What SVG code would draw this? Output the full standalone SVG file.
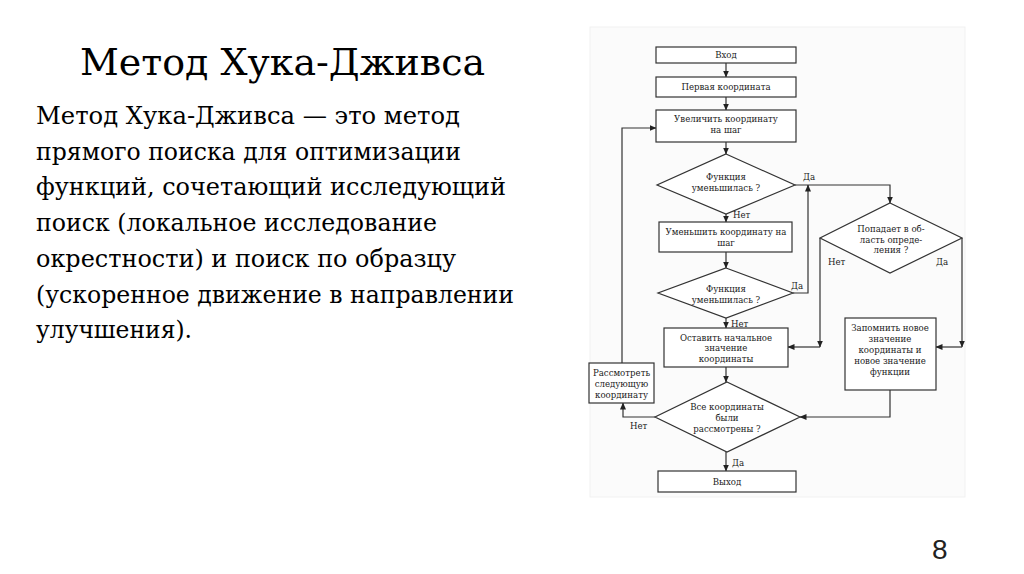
<svg xmlns="http://www.w3.org/2000/svg" width="1024" height="574" viewBox="0 0 1024 574">
<defs>
<marker id="ah" markerWidth="7" markerHeight="6" refX="6.5" refY="3" orient="auto" markerUnits="userSpaceOnUse">
<path d="M0,0 L7,3 L0,6 Z" fill="#222"/>
</marker>
<style>
.title{font-family:'DejaVu Serif',serif;font-size:38px;fill:#000}
.body{font-family:'DejaVu Serif',serif;font-size:23.5px;fill:#000}
.pg{font-family:'Liberation Sans',Arial,sans-serif;font-size:28px;fill:#222}
.box{fill:#fff;stroke:#333;stroke-width:1.2}
.t{font-family:'DejaVu Serif',serif;font-size:8.6px;fill:#222;text-anchor:middle}
.lb{font-family:'DejaVu Serif',serif;font-size:8.6px;fill:#222}
.c{fill:none;stroke:#333;stroke-width:1.2}
</style>
</defs>
<rect width="1024" height="574" fill="#fff"/>
<text class="title" x="80" y="75" textLength="405" lengthAdjust="spacingAndGlyphs">Метод Хука-Дживса</text>
<g id="description">
<text class="body" x="36" y="124" textLength="424" lengthAdjust="spacingAndGlyphs">Метод Хука-Дживса — это метод</text>
<text class="body" x="36" y="160" textLength="425" lengthAdjust="spacingAndGlyphs">прямого поиска для оптимизации</text>
<text class="body" x="36" y="195" textLength="470" lengthAdjust="spacingAndGlyphs">функций, сочетающий исследующий</text>
<text class="body" x="36" y="231" textLength="401" lengthAdjust="spacingAndGlyphs">поиск (локальное исследование</text>
<text class="body" x="36" y="267" textLength="420" lengthAdjust="spacingAndGlyphs">окрестности) и поиск по образцу</text>
<text class="body" x="36" y="303" textLength="478" lengthAdjust="spacingAndGlyphs">(ускоренное движение в направлении</text>
<text class="body" x="36" y="338" textLength="156" lengthAdjust="spacingAndGlyphs">улучшения).</text>
</g>
<text class="pg" x="932" y="559">8</text>
<rect x="590" y="27" width="375" height="470" fill="#fbfbfb" stroke="#f1f1f1"/>

<g id="connectors">
<path class="c" d="M726,63 V77" marker-end="url(#ah)"/>
<path class="c" d="M726,97 V110" marker-end="url(#ah)"/>
<path class="c" d="M726,142 V154" marker-end="url(#ah)"/>
<path class="c" d="M726,214 V222" marker-end="url(#ah)"/>
<path class="c" d="M726,252 V268" marker-end="url(#ah)"/>
<path class="c" d="M726,318 V328" marker-end="url(#ah)"/>
<path class="c" d="M726,367 V382" marker-end="url(#ah)"/>
<path class="c" d="M726,452 V471" marker-end="url(#ah)"/>
<path class="c" d="M795,185 H890 V203" marker-end="url(#ah)"/>
<path class="c" d="M793,293 H808 V185" marker-end="url(#ah)"/>
<path class="c" d="M820,238 V347" marker-end="url(#ah)"/>
<path class="c" d="M820,347 H788" marker-end="url(#ah)"/>
<path class="c" d="M962,238 V347" marker-end="url(#ah)"/>
<path class="c" d="M962,347 H936" marker-end="url(#ah)"/>
<path class="c" d="M890,390 V417 H800" marker-end="url(#ah)"/>
<path class="c" d="M655,417 H623 V403" marker-end="url(#ah)"/>
<path class="c" d="M622,363 V128 H656" marker-end="url(#ah)"/>
<text class="lb" x="803" y="180">Да</text>
<text class="lb" x="791" y="289">Да</text>
<text class="lb" x="733" y="218">Нет</text>
<text class="lb" x="731" y="327">Нет</text>
<text class="lb" x="732" y="466">Да</text>
<text class="lb" x="828" y="265">Нет</text>
<text class="lb" x="936" y="265">Да</text>
<text class="lb" x="630" y="429">Нет</text>
</g>

<g id="n-vhod">
<rect class="box" x="656" y="47" width="140" height="16"/>
<text class="t" x="726" y="58">Вход</text>
</g>
<g id="n-first">
<rect class="box" x="656" y="77" width="140" height="20"/>
<text class="t" x="726" y="90">Первая координата</text>
</g>
<g id="n-inc">
<rect class="box" x="656" y="110" width="140" height="32"/>
<text class="t" x="726" y="121.5">Увеличить координату</text>
<text class="t" x="726" y="132.5">на шаг</text>
</g>
<g id="n-d1">
<polygon class="box" points="726,154 795,185 726,214 657,185"/>
<text class="t" x="726" y="179.5">Функция</text>
<text class="t" x="726" y="190.5">уменьшилась ?</text>
</g>
<g id="n-dec">
<rect class="box" x="659" y="222" width="133" height="30"/>
<text class="t" x="726" y="234.5">Уменьшить координату на</text>
<text class="t" x="726" y="245.5">шаг</text>
</g>
<g id="n-d3">
<polygon class="box" points="726,268 793,293 726,318 658,293"/>
<text class="t" x="726" y="291.5">Функция</text>
<text class="t" x="726" y="302.5">уменьшилась ?</text>
</g>
<g id="n-keep">
<rect class="box" x="664" y="328" width="124" height="39"/>
<text class="t" x="726" y="340.5">Оставить начальное</text>
<text class="t" x="726" y="351">значение</text>
<text class="t" x="726" y="361.5">координаты</text>
</g>
<g id="n-d2">
<polygon class="box" points="890,203 962,238 890,273 820,238"/>
<text class="t" x="891" y="231.5">Попадает в об-</text>
<text class="t" x="891" y="242.5">ласть опреде-</text>
<text class="t" x="891" y="253">ления ?</text>
</g>
<g id="n-save">
<rect class="box" x="845" y="318" width="91" height="72"/>
<text class="t" x="890" y="330.5">Запомнить новое</text>
<text class="t" x="890" y="341.5">значение</text>
<text class="t" x="890" y="352.5">координаты и</text>
<text class="t" x="890" y="363.5">новое значение</text>
<text class="t" x="890" y="374.5">функции</text>
</g>
<g id="n-next">
<rect class="box" x="589" y="363" width="65" height="40"/>
<text class="t" x="621.5" y="375.5">Рассмотреть</text>
<text class="t" x="621.5" y="386.5">следующую</text>
<text class="t" x="621.5" y="397.5">координату</text>
</g>
<g id="n-d4">
<polygon class="box" points="727,382 800,417 727,452 655,417"/>
<text class="t" x="727" y="409.5">Все координаты</text>
<text class="t" x="727" y="420.5">были</text>
<text class="t" x="727" y="431.5">рассмотрены ?</text>
</g>
<g id="n-exit">
<rect class="box" x="658" y="471" width="138" height="21"/>
<text class="t" x="727" y="484.5">Выход</text>
</g>
</svg>
